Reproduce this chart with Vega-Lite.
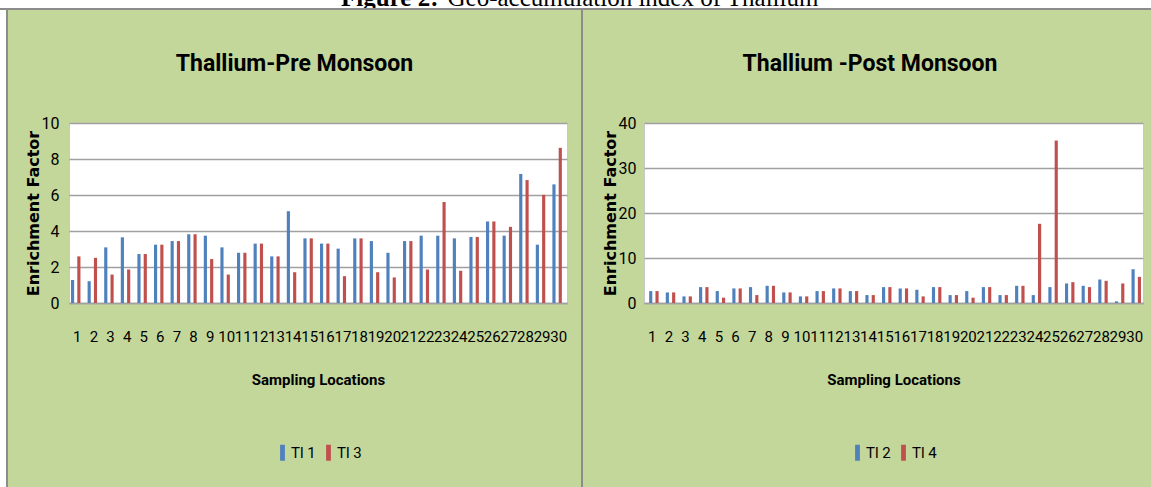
{
  "$schema": "https://vega.github.io/schema/vega-lite/v6.json",
  "background": "#c4d79b",
  "padding": 0,
  "autosize": {"type": "pad"},
  "spacing": 0,
  "align": "none",
  "config": {
    "view": {"stroke": null},
    "axis": {"labelFont": "Roboto", "labelColor": "black", "titleColor": "black"},
    "legend": {"layout": {"bottom": {"anchor": "middle"}}}
  },
  "datasets": {
    "cap": [{"a": "Figure 2:", "b": "Geo-accumulation index of Thallium"}],
    "blank": [{"t": ""}],
    "edge": [{"a": 0, "b": 477}],
    "pre": [
      {"loc": 1, "s": "Tl 1", "v": 1.28}, {"loc": 1, "s": "Tl 3", "v": 2.59},
      {"loc": 2, "s": "Tl 1", "v": 1.21}, {"loc": 2, "s": "Tl 3", "v": 2.51},
      {"loc": 3, "s": "Tl 1", "v": 3.09}, {"loc": 3, "s": "Tl 3", "v": 1.58},
      {"loc": 4, "s": "Tl 1", "v": 3.65}, {"loc": 4, "s": "Tl 3", "v": 1.86},
      {"loc": 5, "s": "Tl 1", "v": 2.72}, {"loc": 5, "s": "Tl 3", "v": 2.72},
      {"loc": 6, "s": "Tl 1", "v": 3.24}, {"loc": 6, "s": "Tl 3", "v": 3.24},
      {"loc": 7, "s": "Tl 1", "v": 3.44}, {"loc": 7, "s": "Tl 3", "v": 3.44},
      {"loc": 8, "s": "Tl 1", "v": 3.82}, {"loc": 8, "s": "Tl 3", "v": 3.82},
      {"loc": 9, "s": "Tl 1", "v": 3.74}, {"loc": 9, "s": "Tl 3", "v": 2.44},
      {"loc": 10, "s": "Tl 1", "v": 3.09}, {"loc": 10, "s": "Tl 3", "v": 1.58},
      {"loc": 11, "s": "Tl 1", "v": 2.79}, {"loc": 11, "s": "Tl 3", "v": 2.79},
      {"loc": 12, "s": "Tl 1", "v": 3.30}, {"loc": 12, "s": "Tl 3", "v": 3.30},
      {"loc": 13, "s": "Tl 1", "v": 2.59}, {"loc": 13, "s": "Tl 3", "v": 2.59},
      {"loc": 14, "s": "Tl 1", "v": 5.10}, {"loc": 14, "s": "Tl 3", "v": 1.71},
      {"loc": 15, "s": "Tl 1", "v": 3.59}, {"loc": 15, "s": "Tl 3", "v": 3.59},
      {"loc": 16, "s": "Tl 1", "v": 3.30}, {"loc": 16, "s": "Tl 3", "v": 3.30},
      {"loc": 17, "s": "Tl 1", "v": 3.02}, {"loc": 17, "s": "Tl 3", "v": 1.49},
      {"loc": 18, "s": "Tl 1", "v": 3.59}, {"loc": 18, "s": "Tl 3", "v": 3.59},
      {"loc": 19, "s": "Tl 1", "v": 3.44}, {"loc": 19, "s": "Tl 3", "v": 1.71},
      {"loc": 20, "s": "Tl 1", "v": 2.79}, {"loc": 20, "s": "Tl 3", "v": 1.42},
      {"loc": 21, "s": "Tl 1", "v": 3.44}, {"loc": 21, "s": "Tl 3", "v": 3.44},
      {"loc": 22, "s": "Tl 1", "v": 3.74}, {"loc": 22, "s": "Tl 3", "v": 1.86},
      {"loc": 23, "s": "Tl 1", "v": 3.74}, {"loc": 23, "s": "Tl 3", "v": 5.61},
      {"loc": 24, "s": "Tl 1", "v": 3.59}, {"loc": 24, "s": "Tl 3", "v": 1.79},
      {"loc": 25, "s": "Tl 1", "v": 3.67}, {"loc": 25, "s": "Tl 3", "v": 3.67},
      {"loc": 26, "s": "Tl 1", "v": 4.53}, {"loc": 26, "s": "Tl 3", "v": 4.53},
      {"loc": 27, "s": "Tl 1", "v": 3.74}, {"loc": 27, "s": "Tl 3", "v": 4.23},
      {"loc": 28, "s": "Tl 1", "v": 7.17}, {"loc": 28, "s": "Tl 3", "v": 6.83},
      {"loc": 29, "s": "Tl 1", "v": 3.24}, {"loc": 29, "s": "Tl 3", "v": 6.01},
      {"loc": 30, "s": "Tl 1", "v": 6.59}, {"loc": 30, "s": "Tl 3", "v": 8.62}
    ],
    "post": [
      {"loc": 1, "s": "Tl 2", "v": 2.65}, {"loc": 1, "s": "Tl 4", "v": 2.65},
      {"loc": 2, "s": "Tl 2", "v": 2.35}, {"loc": 2, "s": "Tl 4", "v": 2.35},
      {"loc": 3, "s": "Tl 2", "v": 1.47}, {"loc": 3, "s": "Tl 4", "v": 1.47},
      {"loc": 4, "s": "Tl 2", "v": 3.53}, {"loc": 4, "s": "Tl 4", "v": 3.53},
      {"loc": 5, "s": "Tl 2", "v": 2.65}, {"loc": 5, "s": "Tl 4", "v": 1.18},
      {"loc": 6, "s": "Tl 2", "v": 3.24}, {"loc": 6, "s": "Tl 4", "v": 3.24},
      {"loc": 7, "s": "Tl 2", "v": 3.53}, {"loc": 7, "s": "Tl 4", "v": 1.76},
      {"loc": 8, "s": "Tl 2", "v": 3.82}, {"loc": 8, "s": "Tl 4", "v": 3.82},
      {"loc": 9, "s": "Tl 2", "v": 2.35}, {"loc": 9, "s": "Tl 4", "v": 2.35},
      {"loc": 10, "s": "Tl 2", "v": 1.47}, {"loc": 10, "s": "Tl 4", "v": 1.47},
      {"loc": 11, "s": "Tl 2", "v": 2.65}, {"loc": 11, "s": "Tl 4", "v": 2.65},
      {"loc": 12, "s": "Tl 2", "v": 3.24}, {"loc": 12, "s": "Tl 4", "v": 3.24},
      {"loc": 13, "s": "Tl 2", "v": 2.65}, {"loc": 13, "s": "Tl 4", "v": 2.65},
      {"loc": 14, "s": "Tl 2", "v": 1.76}, {"loc": 14, "s": "Tl 4", "v": 1.76},
      {"loc": 15, "s": "Tl 2", "v": 3.53}, {"loc": 15, "s": "Tl 4", "v": 3.53},
      {"loc": 16, "s": "Tl 2", "v": 3.24}, {"loc": 16, "s": "Tl 4", "v": 3.24},
      {"loc": 17, "s": "Tl 2", "v": 2.94}, {"loc": 17, "s": "Tl 4", "v": 1.47},
      {"loc": 18, "s": "Tl 2", "v": 3.53}, {"loc": 18, "s": "Tl 4", "v": 3.53},
      {"loc": 19, "s": "Tl 2", "v": 1.76}, {"loc": 19, "s": "Tl 4", "v": 1.76},
      {"loc": 20, "s": "Tl 2", "v": 2.65}, {"loc": 20, "s": "Tl 4", "v": 1.18},
      {"loc": 21, "s": "Tl 2", "v": 3.53}, {"loc": 21, "s": "Tl 4", "v": 3.53},
      {"loc": 22, "s": "Tl 2", "v": 1.76}, {"loc": 22, "s": "Tl 4", "v": 1.76},
      {"loc": 23, "s": "Tl 2", "v": 3.82}, {"loc": 23, "s": "Tl 4", "v": 3.82},
      {"loc": 24, "s": "Tl 2", "v": 1.76}, {"loc": 24, "s": "Tl 4", "v": 17.6},
      {"loc": 25, "s": "Tl 2", "v": 3.53}, {"loc": 25, "s": "Tl 4", "v": 36.1},
      {"loc": 26, "s": "Tl 2", "v": 4.34}, {"loc": 26, "s": "Tl 4", "v": 4.63},
      {"loc": 27, "s": "Tl 2", "v": 3.82}, {"loc": 27, "s": "Tl 4", "v": 3.53},
      {"loc": 28, "s": "Tl 2", "v": 5.22}, {"loc": 28, "s": "Tl 4", "v": 4.93},
      {"loc": 29, "s": "Tl 2", "v": 0.37}, {"loc": 29, "s": "Tl 4", "v": 4.34},
      {"loc": 30, "s": "Tl 2", "v": 7.50}, {"loc": 30, "s": "Tl 4", "v": 5.81}
    ]
  },
  "vconcat": [
    {
      "width": 1151,
      "height": 8,
      "view": {"fill": "white", "stroke": null},
      "data": {"name": "cap"},
      "layer": [
        {"mark": {"type": "text", "clip": true, "align": "right", "baseline": "alphabetic", "dy": 2, "dx": -137, "font": "Liberation Serif", "fontSize": 25, "fontWeight": "bold", "color": "black"}, "encoding": {"text": {"field": "a"}}},
        {"mark": {"type": "text", "clip": true, "align": "left", "baseline": "alphabetic", "dy": 2, "dx": -128, "font": "Liberation Serif", "fontSize": 25, "fontWeight": "normal", "color": "black"}, "encoding": {"text": {"field": "b"}}}
      ]
    },
    {
      "width": 1151,
      "height": 2,
      "view": {"fill": "#8c8c8c", "stroke": null},
      "data": {"name": "blank"},
      "mark": {"type": "text", "fontSize": 0},
      "encoding": {"text": {"field": "t"}}
    },
    {
      "spacing": 13,
      "align": "none",
      "resolve": {"scale": {"color": "independent", "x": "independent", "y": "independent"}, "legend": {"color": "independent"}},
      "hconcat": [
        {
          "spacing": 0,
          "align": "none",
          "resolve": {"scale": {"y": "independent"}},
          "hconcat": [
            {"width": 6, "height": 364, "data": {"name": "edge"}, "mark": {"type": "rect", "color": "white"},
             "encoding": {"y": {"field": "b", "type": "quantitative", "scale": {"domain": [0, 364], "nice": false, "zero": false}, "axis": null}, "y2": {"field": "a"}}},
            {"width": 2, "height": 364, "data": {"name": "edge"}, "mark": {"type": "rect", "color": "#8c8c8c"},
             "encoding": {"y": {"field": "b", "type": "quantitative", "scale": {"domain": [0, 364], "nice": false, "zero": false}, "axis": null}, "y2": {"field": "a"}}}
          ]
        },
        {
          "width": 498,
          "height": 180,
          "data": {"name": "pre"},
          "view": {"fill": "white", "stroke": "#c8c8c8", "strokeWidth": 1},
          "title": {"text": "Thallium-Pre Monsoon", "font": "Roboto", "fontSize": 23, "fontWeight": "bold", "color": "black", "offset": 39, "frame": "bounds", "anchor": "middle"},
          "mark": {"type": "bar", "width": {"band": 1}},
          "encoding": {
            "x": {"field": "loc", "type": "ordinal", "scale": {"paddingInner": 0.24, "paddingOuter": 0.12},
                  "axis": {"title": "Sampling Locations", "titleFont": "Roboto", "titleFontSize": 15, "titleFontWeight": "bold", "titlePadding": 28, "labelAngle": 0, "labelFontSize": 15, "labelPadding": 26, "ticks": false, "tickSize": 0, "domainColor": "#a0a0a0", "domainWidth": 1.5, "grid": false}},
            "xOffset": {"field": "s", "type": "nominal", "scale": {"paddingInner": 0, "paddingOuter": 0}},
            "y": {"field": "v", "type": "quantitative", "scale": {"domain": [0, 10], "nice": false},
                  "axis": {"values": [0, 2, 4, 6, 8, 10], "title": ["", "Enrichment Factor"], "titleFont": "DejaVu Sans", "titleFontSize": 16, "titleFontWeight": "bold", "titleLineHeight": 3, "titlePadding": 0, "labelFontSize": 16, "labelPadding": 10, "ticks": false, "tickSize": 0, "domain": false, "grid": true, "gridColor": "#a0a0a0", "gridWidth": 1.5}},
            "color": {"field": "s", "type": "nominal", "scale": {"range": ["#4f81bd", "#c0504d"]},
                      "legend": {"orient": "bottom", "direction": "horizontal", "title": null, "offset": 58, "symbolType": "M-0.6,-2H0.6V2H-0.6Z", "symbolSize": 64, "symbolStrokeWidth": 0, "labelFont": "Roboto", "labelFontSize": 15, "labelColor": "black", "labelOffset": 1, "columnPadding": 5}}
          }
        },
        {"width": 2, "height": 364, "data": {"name": "edge"}, "mark": {"type": "rect", "color": "#8c8c8c"},
         "encoding": {"y": {"field": "b", "type": "quantitative", "scale": {"domain": [0, 364], "nice": false, "zero": false}, "axis": null}, "y2": {"field": "a"}}},
        {
          "width": 499,
          "height": 180,
          "data": {"name": "post"},
          "view": {"fill": "white", "stroke": "#c8c8c8", "strokeWidth": 1},
          "title": {"text": "Thallium -Post Monsoon", "font": "Roboto", "fontSize": 23, "fontWeight": "bold", "color": "black", "offset": 39, "frame": "bounds", "anchor": "middle"},
          "mark": {"type": "bar", "width": {"band": 1}},
          "encoding": {
            "x": {"field": "loc", "type": "ordinal", "scale": {"paddingInner": 0.24, "paddingOuter": 0.12},
                  "axis": {"title": "Sampling Locations", "titleFont": "Roboto", "titleFontSize": 15, "titleFontWeight": "bold", "titlePadding": 28, "labelAngle": 0, "labelFontSize": 15, "labelPadding": 26, "ticks": false, "tickSize": 0, "domainColor": "#a0a0a0", "domainWidth": 1.5, "grid": false}},
            "xOffset": {"field": "s", "type": "nominal", "scale": {"paddingInner": 0, "paddingOuter": 0}},
            "y": {"field": "v", "type": "quantitative", "scale": {"domain": [0, 40], "nice": false},
                  "axis": {"values": [0, 10, 20, 30, 40], "title": ["", "Enrichment Factor"], "titleFont": "DejaVu Sans", "titleFontSize": 16, "titleFontWeight": "bold", "titleLineHeight": 5, "titlePadding": 0, "labelFontSize": 16, "labelPadding": 8, "ticks": false, "tickSize": 0, "domain": false, "grid": true, "gridColor": "#a0a0a0", "gridWidth": 1.5}},
            "color": {"field": "s", "type": "nominal", "scale": {"range": ["#4f81bd", "#c0504d"]},
                      "legend": {"orient": "bottom", "direction": "horizontal", "title": null, "offset": 58, "symbolType": "M-0.6,-2H0.6V2H-0.6Z", "symbolSize": 64, "symbolStrokeWidth": 0, "labelFont": "Roboto", "labelFontSize": 15, "labelColor": "black", "labelOffset": 1, "columnPadding": 5}}
          }
        }
      ]
    }
  ]
}
